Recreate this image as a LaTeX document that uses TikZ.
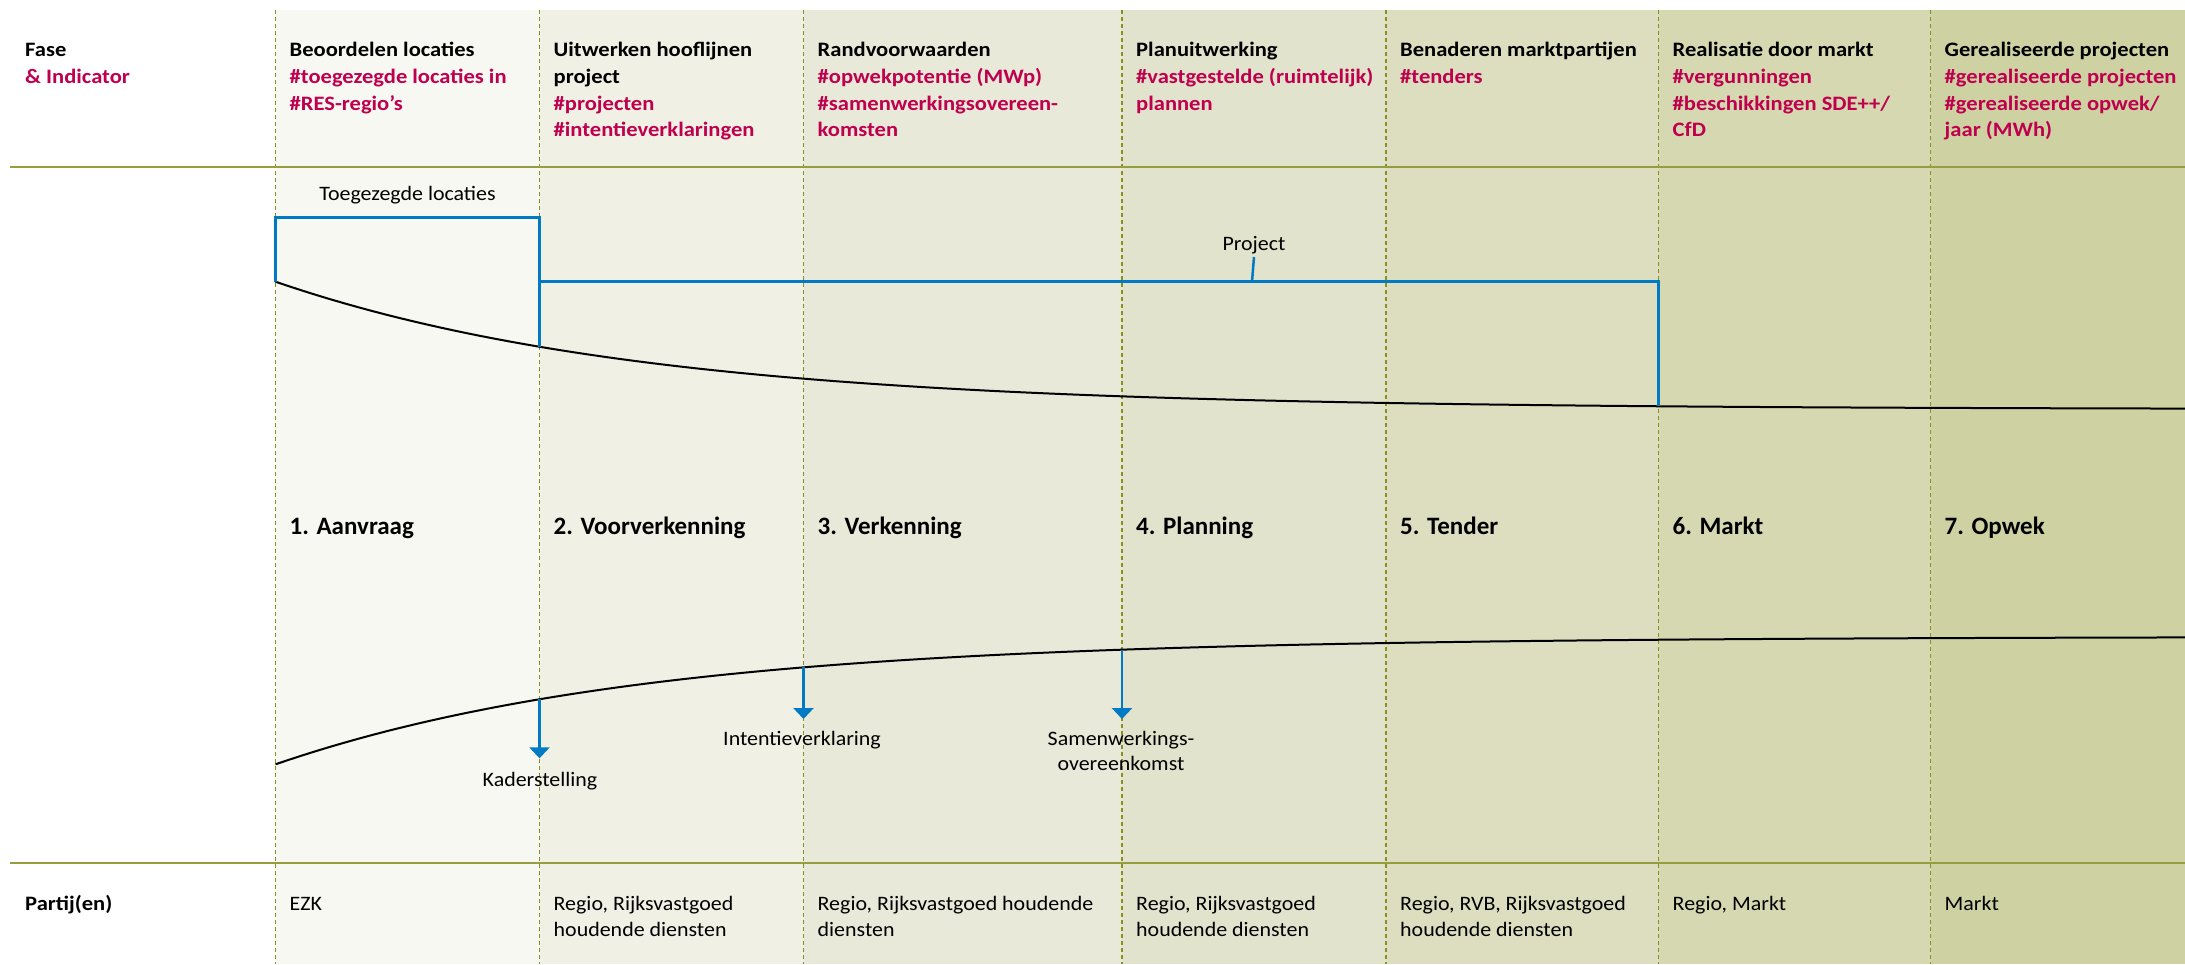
\documentclass[tikz,border=0pt]{standalone}
\usepackage{fontspec}
\setmainfont{Carlito}[FakeStretch=1.07]
\newfontfamily\hdrfamily{Carlito}[FakeStretch=1.1]
\newfontfamily\phfamily{Carlito}
\usetikzlibrary{arrows.meta}
\definecolor{lnolive}{RGB}{150,157,62}
\definecolor{dsholive}{RGB}{138,144,30}
\definecolor{rvblue}{RGB}{0,122,196}
\definecolor{rvred}{RGB}{190,0,78}
\definecolor{bgA}{RGB}{247,248,242}
\definecolor{bgB}{RGB}{240,240,228}
\definecolor{bgC}{RGB}{232,233,216}
\definecolor{bgD}{RGB}{226,227,204}
\definecolor{bgE}{RGB}{220,222,191}
\definecolor{bgF}{RGB}{213,216,176}
\definecolor{bgG}{RGB}{206,210,163}
\newcommand\txtsz{\fontsize{20.5}{26.7}\selectfont}
\newcommand\phsz{\fontsize{25}{29}\selectfont}
\newcommand\mlines[1]{\begin{tabular}[t]{@{}l@{}}#1\end{tabular}}
\newcommand\clines[1]{\begin{tabular}[t]{@{}c@{}}#1\end{tabular}}
\newcommand\hl[1]{\textcolor{rvred}{#1}}
\begin{document}
\begin{tikzpicture}[x=1pt,y=-1pt,
  sep/.style={draw=dsholive, line width=1.1pt, dash pattern=on 4pt off 3pt},
  rulebar/.style={draw=lnolive, line width=2.6pt},
  hdr/.style={anchor=base west, inner sep=0pt, font=\hdrfamily\txtsz\bfseries},
  party/.style={anchor=base west, inner sep=0pt, font=\txtsz},
  phase/.style={anchor=base west, inner sep=0pt, font=\phfamily\phsz\bfseries},
  lbl/.style={anchor=base, inner sep=0pt, font=\txtsz},
  curve/.style={draw=black, line width=2pt},
  bracket/.style={draw=rvblue, line width=3pt},
  marker/.style={draw=rvblue, line width=2.5pt, -{Triangle[width=20pt,length=11pt]}},
  declare function={topc(\t)=409.3-127.6*exp(-0.0027*(\t-275.5));}
]
\useasboundingbox (0,0) rectangle (2185,964);
% column backgrounds
\fill[bgA] (275.5,10) rectangle (539.5,964);
\fill[bgB] (539.5,10) rectangle (803.5,964);
\fill[bgC] (803.5,10) rectangle (1122,964);
\fill[bgD] (1122,10) rectangle (1386,964);
\fill[bgE] (1386,10) rectangle (1658.5,964);
\fill[bgF] (1658.5,10) rectangle (1930.5,964);
\fill[bgG] (1930.5,10) rectangle (2185,964);
% separators
\foreach \c in {275.5,539.5,803.5,1122,1386,1658.5,1930.5}
  \draw[sep] (\c,10) -- (\c,964);
% rules
\draw[rulebar] (10,167) -- (2185,167);
\draw[rulebar] (10,863) -- (2185,863);
% header
\node[hdr] (fase) at (25,56.7) {\mlines{Fase\\\hl{\& Indicator}}};
\node[hdr] (h1) at (289.5,56.7) {\mlines{Beoordelen locaties\\\hl{\#toegezegde locaties in}\\\hl{\#RES-regio’s}}};
\node[hdr] (h2) at (553.5,56.7) {\mlines{Uitwerken hooflijnen\\project\\\hl{\#projecten}\\\hl{\#intentieverklaringen}}};
\node[hdr] (h3) at (817.5,56.7) {\mlines{Randvoorwaarden\\\hl{\#opwekpotentie (MWp)}\\\hl{\#samenwerkingsovereen-}\\\hl{komsten}}};
\node[hdr] (h4) at (1136,56.7) {\mlines{Planuitwerking\\\hl{\#vastgestelde (ruimtelijk)}\\\hl{plannen}}};
\node[hdr] (h5) at (1400,56.7) {\mlines{Benaderen marktpartijen\\\hl{\#tenders}}};
\node[hdr] (h6) at (1672.5,56.7) {\mlines{Realisatie door markt\\\hl{\#vergunningen}\\\hl{\#beschikkingen SDE++/}\\\hl{CfD}}};
\node[hdr] (h7) at (1944.5,56.7) {\mlines{Gerealiseerde projecten\\\hl{\#gerealiseerde projecten}\\\hl{\#gerealiseerde opwek/}\\\hl{jaar (MWh)}}};
% curves
\draw[curve] plot[domain=275.5:2185, samples=140] (\x,{topc(\x)});
\draw[curve] plot[domain=275.5:2185, samples=140] (\x,{1046-topc(\x)});
% points on curves
\coordinate (ta) at (275.5,{topc(275.5)});
\coordinate (tb) at (539.5,{topc(539.5)});
\coordinate (tc) at (539.5,217.7);
\coordinate (td) at (275.5,217.7);
\coordinate (pa) at (539.5,281.7);
\coordinate (pb) at (1658.5,281.7);
\coordinate (pc) at (1658.5,{topc(1658.5)});
\coordinate (pm) at (1252,281.7);
\coordinate (ba) at (539.5,{1046-topc(539.5)});
\coordinate (bb) at (803.5,{1046-topc(803.5)});
\coordinate (bc) at (1122,{1046-topc(1122)});
\coordinate (ea) at (539.5,758.3);
\coordinate (eb) at (803.5,719);
\coordinate (ec) at (1122,719);
% brackets
\node[lbl] (toeg) at (407.5,200.7) {Toegezegde locaties};
\node[lbl] (proj) at (1254,250) {Project};
\draw[bracket] (ta) -- (td) -- (tc) -- (tb);
\draw[bracket] (pa) -- (pb) -- (pc);
\draw[bracket, line width=2.5pt] (pm) -- (proj.south |- 0,257);
% markers
\draw[marker] (ba) -- (ea);
\draw[marker] (bb) -- (eb);
\draw[marker] (bc) -- (ec);
\node[lbl] (kader) at (540,786) {Kaderstelling};
\node[lbl] (intent) at (802,745.7) {Intentieverklaring};
\node[lbl, font=\fontsize{20.5}{25}\selectfont] (samen) at (1121,745.7) {\clines{Samenwerkings-\\overeenkomst}};
% phases
\node[phase] (p1) at (289.5,534.5) {1. Aanvraag};
\node[phase] (p2) at (553.5,534.5) {2. Voorverkenning};
\node[phase] (p3) at (817.5,534.5) {3. Verkenning};
\node[phase] (p4) at (1136,534.5) {4. Planning};
\node[phase] (p5) at (1400,534.5) {5. Tender};
\node[phase] (p6) at (1672.5,534.5) {6. Markt};
\node[phase] (p7) at (1944.5,534.5) {7. Opwek};
% parties
\node[hdr] (partij) at (25,910) {Partij(en)};
\node[party] (r1) at (289.5,910) {EZK};
\node[party] (r2) at (553.5,910) {\mlines{Regio, Rijksvastgoed\\houdende diensten}};
\node[party] (r3) at (817.5,910) {\mlines{Regio, Rijksvastgoed houdende\\diensten}};
\node[party] (r4) at (1136,910) {\mlines{Regio, Rijksvastgoed\\houdende diensten}};
\node[party] (r5) at (1400,910) {\mlines{Regio, RVB, Rijksvastgoed\\houdende diensten}};
\node[party] (r6) at (1672.5,910) {Regio, Markt};
\node[party] (r7) at (1944.5,910) {Markt};
\end{tikzpicture}
\end{document}
